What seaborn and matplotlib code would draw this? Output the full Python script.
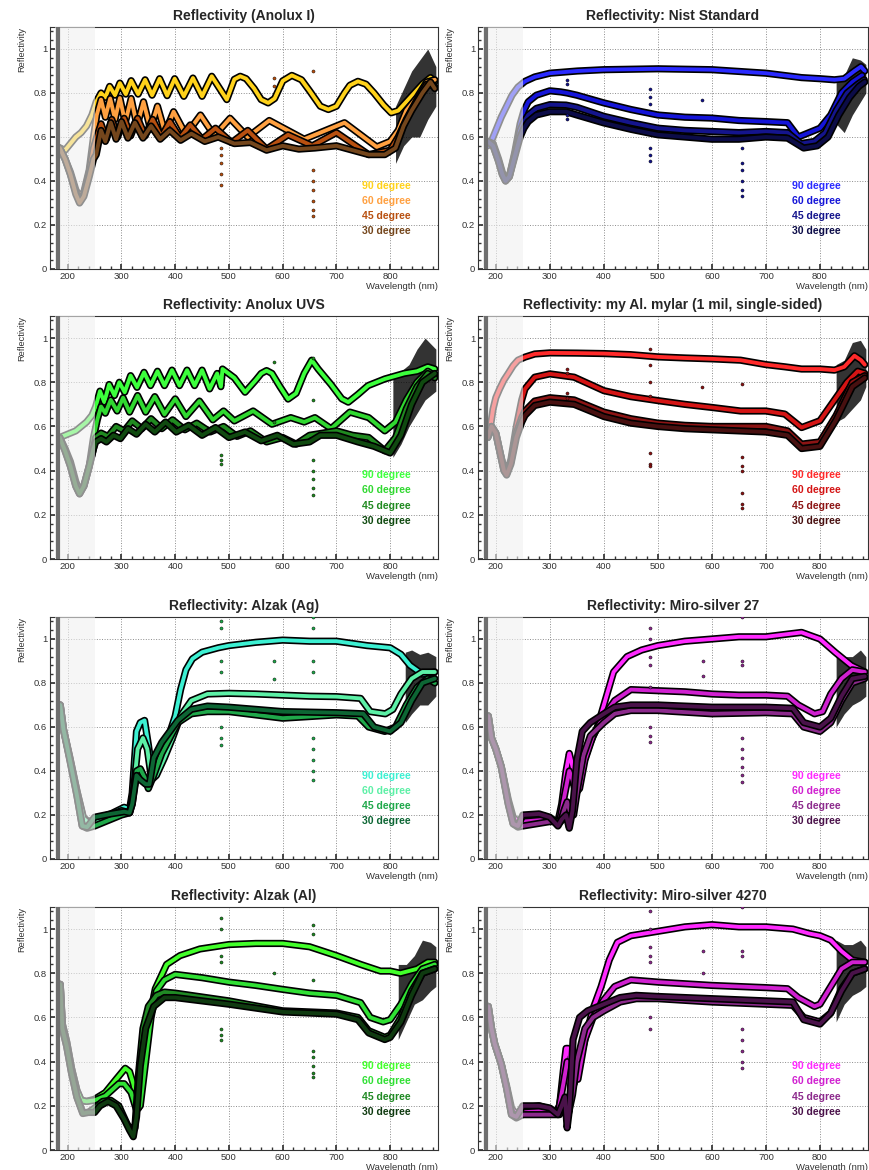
import matplotlib
matplotlib.use('Agg')
import matplotlib.pyplot as plt
import seaborn as sns
import pandas as pd
from matplotlib.ticker import MultipleLocator, FuncFormatter

ANGLES = ['90 degree', '60 degree', '45 degree', '30 degree']

# ---------- Anolux I ----------
ANOLUX_I_WL_90 = [185, 195, 205, 215, 225, 235, 245, 253, 262, 270, 278, 288, 297, 308, 318, 331, 344, 357, 371, 385,
                  399, 416, 433, 450, 468, 496, 510, 521, 532, 547, 560, 573, 585, 600, 617, 635, 650, 670, 685, 700,
                  715, 725, 740, 755, 770, 788, 802, 815, 830, 845, 860, 875, 883]
ANOLUX_I_R_90 = [0.55, 0.54, 0.57, 0.60, 0.62, 0.65, 0.70, 0.76, 0.80, 0.78, 0.83, 0.79, 0.845, 0.795, 0.856, 0.795, 0.86, 0.79, 0.865, 0.788,
                 0.865, 0.785, 0.868, 0.785, 0.876, 0.77, 0.862, 0.876, 0.865, 0.82, 0.77, 0.755, 0.775, 0.855, 0.88, 0.86, 0.81, 0.74, 0.725, 0.74,
                 0.80, 0.835, 0.853, 0.84, 0.80, 0.745, 0.71, 0.72, 0.76, 0.80, 0.84, 0.87, 0.85]
ANOLUX_I_WL_60 = [185, 195, 205, 215, 222, 230, 240, 248, 254, 262, 270, 279, 288, 297, 307, 318, 329, 341, 354, 367,
                  381, 397, 420, 447, 473, 502, 535, 575, 640, 715, 775, 800, 815, 830, 850, 868, 883]
ANOLUX_I_R_60 = [0.55, 0.50, 0.44, 0.36, 0.33, 0.35, 0.45, 0.60, 0.70, 0.77, 0.69, 0.775, 0.68, 0.777, 0.665, 0.775, 0.65, 0.76, 0.635, 0.74,
                 0.62, 0.715, 0.61, 0.70, 0.605, 0.685, 0.60, 0.675, 0.59, 0.665, 0.555, 0.58, 0.63, 0.72, 0.78, 0.85, 0.86]
ANOLUX_I_WL_45 = [185, 195, 205, 215, 222, 230, 240, 248, 254, 262, 272, 282, 293, 305, 317, 330, 344, 358, 374, 390,
                  409, 428, 450, 475, 505, 535, 570, 610, 655, 700, 760, 800, 815, 830, 850, 868, 883]
ANOLUX_I_R_45 = [0.55, 0.50, 0.43, 0.35, 0.31, 0.34, 0.44, 0.55, 0.60, 0.66, 0.59, 0.68, 0.60, 0.685, 0.605, 0.685, 0.605, 0.68, 0.60, 0.67,
                 0.595, 0.655, 0.59, 0.64, 0.575, 0.63, 0.545, 0.61, 0.56, 0.62, 0.52, 0.54, 0.60, 0.68, 0.77, 0.84, 0.83]
ANOLUX_I_WL_30 = [185, 195, 205, 215, 222, 230, 240, 248, 253, 262, 270, 280, 290, 300, 312, 325, 340, 355, 372, 390,
                  410, 430, 455, 480, 510, 540, 570, 600, 630, 660, 700, 730, 760, 790, 810, 825, 840, 860, 875, 883]
ANOLUX_I_R_30 = [0.55, 0.50, 0.43, 0.34, 0.30, 0.33, 0.42, 0.50, 0.52, 0.63, 0.58, 0.665, 0.59, 0.67, 0.595, 0.665, 0.595, 0.65, 0.59, 0.63,
                 0.585, 0.615, 0.58, 0.60, 0.57, 0.575, 0.54, 0.56, 0.545, 0.55, 0.56, 0.54, 0.52, 0.52, 0.55, 0.65, 0.72, 0.80, 0.85, 0.82]
ANOLUX_I_SPIKE_WL = [486, 486, 486, 486, 486, 583, 583, 656, 656, 656, 656, 656, 656, 656]
ANOLUX_I_SPIKE_R = [0.55, 0.52, 0.48, 0.43, 0.38, 0.87, 0.83, 0.90, 0.45, 0.40, 0.36, 0.31, 0.27, 0.24]
ANOLUX_I_CLOUD_WL = [810, 825, 840, 855, 870, 885]
ANOLUX_I_CLOUD_LO = [0.48, 0.56, 0.60, 0.60, 0.68, 0.74]
ANOLUX_I_CLOUD_HI = [0.74, 0.82, 0.90, 0.95, 1.00, 0.92]

# ---------- Nist Standard ----------
NIST_WL_90 = [185, 190, 200, 210, 220, 230, 241, 254, 272, 300, 351, 400, 500, 600, 700, 766, 800, 827, 845, 864, 876, 883]
NIST_R_90 = [0.56, 0.57, 0.63, 0.69, 0.74, 0.79, 0.827, 0.853, 0.873, 0.89, 0.90, 0.906, 0.91, 0.906, 0.89, 0.87, 0.865, 0.86, 0.865, 0.90, 0.92, 0.90]
NIST_WL_60 = [185, 195, 205, 212, 218, 225, 235, 245, 252, 260, 275, 300, 320, 332, 350, 400, 450, 500, 550, 600,
              650, 700, 740, 760, 785, 800, 820, 840, 860, 878]
NIST_R_60 = [0.58, 0.57, 0.50, 0.44, 0.405, 0.42, 0.53, 0.66, 0.72, 0.76, 0.79, 0.81, 0.805, 0.80, 0.79, 0.755, 0.725, 0.70, 0.69, 0.686,
             0.675, 0.67, 0.665, 0.60, 0.625, 0.64, 0.70, 0.80, 0.85, 0.88]
NIST_WL_45 = [185, 195, 205, 212, 218, 225, 235, 245, 252, 260, 275, 300, 330, 350, 400, 450, 500, 550, 600, 650,
              700, 740, 765, 790, 810, 830, 850, 870, 882]
NIST_R_45 = [0.58, 0.56, 0.49, 0.43, 0.40, 0.42, 0.52, 0.63, 0.67, 0.70, 0.73, 0.747, 0.745, 0.735, 0.694, 0.665, 0.64, 0.63, 0.625, 0.62,
             0.625, 0.62, 0.57, 0.58, 0.62, 0.72, 0.80, 0.84, 0.86]
NIST_WL_30 = [185, 195, 205, 212, 218, 225, 235, 245, 252, 260, 275, 300, 330, 350, 400, 450, 500, 550, 600, 650,
              700, 740, 770, 795, 815, 835, 855, 872, 883]
NIST_R_30 = [0.58, 0.56, 0.49, 0.43, 0.40, 0.42, 0.51, 0.60, 0.64, 0.67, 0.70, 0.715, 0.715, 0.70, 0.664, 0.635, 0.61, 0.60, 0.59, 0.59,
             0.60, 0.595, 0.55, 0.56, 0.60, 0.70, 0.78, 0.83, 0.85]
NIST_SPIKE_WL = [332, 332, 332, 332, 486, 486, 486, 486, 486, 486, 582, 656, 656, 656, 656, 656, 656]
NIST_SPIKE_R = [0.86, 0.84, 0.70, 0.68, 0.82, 0.78, 0.75, 0.55, 0.52, 0.49, 0.77, 0.55, 0.48, 0.45, 0.40, 0.36, 0.33]
NIST_CLOUD_WL = [830, 845, 860, 875, 885]
NIST_CLOUD_LO = [0.66, 0.62, 0.70, 0.76, 0.80]
NIST_CLOUD_HI = [0.87, 0.88, 0.96, 0.95, 0.93]

# ---------- Anolux UVS ----------
UVS_WL_90 = [185, 195, 205, 215, 225, 235, 245, 252, 260, 268, 277, 287, 296, 306, 317, 329, 342, 354, 367, 380,
             394, 408, 422, 436, 450, 464, 478, 485, 488, 510, 530, 550, 560, 570, 580, 595, 610, 625, 640, 654,
             666, 690, 710, 722, 740, 759, 790, 826, 850, 870, 883]
UVS_R_90 = [0.55, 0.56, 0.57, 0.58, 0.60, 0.62, 0.65, 0.69, 0.76, 0.71, 0.79, 0.74, 0.80, 0.755, 0.83, 0.777, 0.845, 0.785, 0.85, 0.785,
            0.855, 0.785, 0.855, 0.785, 0.855, 0.77, 0.84, 0.78, 0.86, 0.82, 0.755, 0.81, 0.84, 0.853, 0.84, 0.78, 0.724, 0.75, 0.84, 0.90,
            0.86, 0.79, 0.725, 0.71, 0.745, 0.785, 0.815, 0.84, 0.85, 0.87, 0.86]
UVS_WL_60 = [185, 195, 205, 215, 222, 230, 240, 248, 255, 262, 270, 280, 292, 303, 315, 330, 345, 362, 380, 400,
             420, 445, 470, 490, 510, 545, 580, 615, 640, 660, 690, 725, 760, 790, 810, 830, 850, 870, 883]
UVS_R_60 = [0.55, 0.50, 0.44, 0.35, 0.31, 0.33, 0.42, 0.55, 0.63, 0.69, 0.66, 0.72, 0.67, 0.73, 0.665, 0.74, 0.665, 0.735, 0.655, 0.725,
            0.645, 0.715, 0.63, 0.67, 0.625, 0.67, 0.61, 0.64, 0.62, 0.64, 0.59, 0.665, 0.64, 0.58, 0.62, 0.72, 0.80, 0.85, 0.83]
UVS_WL_45 = [185, 195, 205, 215, 222, 230, 240, 248, 252, 262, 275, 290, 305, 320, 338, 355, 375, 395, 418, 440,
             465, 490, 515, 540, 570, 600, 625, 650, 675, 700, 730, 760, 790, 810, 830, 850, 870, 883]
UVS_R_45 = [0.55, 0.49, 0.42, 0.33, 0.295, 0.33, 0.42, 0.50, 0.55, 0.57, 0.555, 0.60, 0.58, 0.625, 0.59, 0.635, 0.59, 0.63, 0.585, 0.615,
            0.575, 0.60, 0.555, 0.58, 0.53, 0.55, 0.52, 0.56, 0.57, 0.58, 0.56, 0.55, 0.49, 0.55, 0.68, 0.78, 0.84, 0.82]
UVS_WL_30 = [185, 195, 205, 215, 222, 230, 240, 248, 252, 262, 272, 285, 298, 312, 328, 345, 362, 382, 402, 425,
             450, 475, 500, 530, 560, 590, 620, 650, 670, 700, 740, 770, 800, 820, 840, 860, 883]
UVS_R_30 = [0.55, 0.49, 0.42, 0.33, 0.295, 0.33, 0.42, 0.50, 0.53, 0.545, 0.53, 0.56, 0.545, 0.59, 0.565, 0.61, 0.575, 0.62, 0.575, 0.605,
            0.56, 0.595, 0.55, 0.575, 0.535, 0.56, 0.52, 0.53, 0.56, 0.56, 0.53, 0.51, 0.48, 0.56, 0.70, 0.80, 0.84]
UVS_SPIKE_WL = [486, 486, 486, 583, 583, 656, 656, 656, 656, 656, 656, 656]
UVS_SPIKE_R = [0.47, 0.45, 0.43, 0.89, 0.62, 0.91, 0.72, 0.45, 0.40, 0.36, 0.32, 0.29]
UVS_CLOUD_WL = [805, 820, 835, 850, 865, 885]
UVS_CLOUD_LO = [0.46, 0.52, 0.60, 0.66, 0.72, 0.76]
UVS_CLOUD_HI = [0.84, 0.85, 0.88, 0.95, 1.00, 0.95]

# ---------- my Al. mylar ----------
MYLAR_WL_90 = [185, 190, 195, 200, 207, 215, 223, 232, 241, 254, 272, 300, 350, 400, 450, 500, 550, 600, 653, 700,
               735, 766, 800, 827, 845, 864, 876, 883]
MYLAR_R_90 = [0.55, 0.60, 0.68, 0.73, 0.77, 0.81, 0.84, 0.875, 0.90, 0.914, 0.928, 0.933, 0.932, 0.93, 0.925, 0.915, 0.91, 0.906, 0.90, 0.88,
              0.87, 0.86, 0.86, 0.855, 0.87, 0.92, 0.90, 0.88]
MYLAR_WL_60 = [185, 192, 200, 208, 215, 220, 228, 238, 248, 254, 272, 300, 345, 400, 450, 500, 550, 600, 653, 700,
               735, 766, 800, 827, 850, 870, 883]
MYLAR_R_60 = [0.55, 0.60, 0.57, 0.48, 0.41, 0.39, 0.45, 0.60, 0.72, 0.77, 0.823, 0.838, 0.823, 0.762, 0.735, 0.717, 0.70, 0.686, 0.67, 0.67,
              0.656, 0.595, 0.626, 0.72, 0.80, 0.85, 0.84]
MYLAR_WL_45 = [185, 192, 200, 208, 215, 220, 228, 238, 248, 254, 272, 300, 345, 400, 450, 500, 550, 600, 653, 700,
               740, 766, 800, 830, 860, 883]
MYLAR_R_45 = [0.55, 0.60, 0.57, 0.48, 0.40, 0.385, 0.44, 0.57, 0.64, 0.67, 0.715, 0.73, 0.72, 0.665, 0.635, 0.615, 0.605, 0.60, 0.60, 0.60,
              0.58, 0.52, 0.53, 0.65, 0.80, 0.83]
MYLAR_WL_30 = [185, 192, 200, 208, 215, 220, 228, 238, 248, 254, 272, 300, 345, 400, 450, 500, 550, 600, 650, 700,
               740, 766, 800, 830, 860, 883]
MYLAR_R_30 = [0.55, 0.60, 0.57, 0.48, 0.40, 0.38, 0.43, 0.55, 0.62, 0.65, 0.695, 0.71, 0.70, 0.645, 0.615, 0.60, 0.59, 0.585, 0.58, 0.575,
              0.56, 0.50, 0.51, 0.63, 0.78, 0.82]
MYLAR_SPIKE_WL = [332, 332, 332, 332, 486, 486, 486, 486, 486, 486, 486, 582, 656, 656, 656, 656, 656, 656, 656]
MYLAR_SPIKE_R = [0.86, 0.84, 0.75, 0.73, 0.95, 0.88, 0.80, 0.74, 0.48, 0.43, 0.42, 0.78, 0.79, 0.46, 0.42, 0.40, 0.30, 0.25, 0.23]
MYLAR_CLOUD_WL = [830, 845, 860, 875, 885]
MYLAR_CLOUD_LO = [0.62, 0.64, 0.68, 0.72, 0.78]
MYLAR_CLOUD_HI = [0.88, 0.90, 0.98, 0.99, 0.95]

# ---------- Alzak (Ag) ----------
AG_WL_90 = [186, 192, 204, 217, 229, 238, 250, 280, 305, 315, 320, 328, 335, 343, 350, 357, 365, 375, 388, 400,
            410, 420, 432, 450, 480, 500, 550, 600, 650, 700, 757, 800, 820, 837, 860, 883]
AG_R_90 = [0.70, 0.59, 0.46, 0.31, 0.19, 0.17, 0.18, 0.205, 0.235, 0.225, 0.30, 0.58, 0.62, 0.63, 0.52, 0.40, 0.40, 0.45, 0.56, 0.65,
           0.77, 0.86, 0.91, 0.94, 0.96, 0.97, 0.985, 0.995, 0.99, 0.99, 0.97, 0.96, 0.93, 0.88, 0.84, 0.85]
AG_WL_60 = [186, 192, 204, 217, 229, 238, 250, 300, 315, 322, 330, 340, 348, 356, 365, 380, 395, 410, 430, 460,
            500, 550, 600, 650, 700, 745, 763, 791, 805, 820, 840, 860, 883]
AG_R_60 = [0.70, 0.59, 0.46, 0.31, 0.185, 0.165, 0.17, 0.22, 0.21, 0.30, 0.50, 0.55, 0.50, 0.36, 0.38, 0.46, 0.55, 0.65, 0.72, 0.75,
           0.753, 0.75, 0.745, 0.74, 0.738, 0.73, 0.67, 0.66, 0.68, 0.75, 0.82, 0.85, 0.85]
AG_WL_45 = [186, 192, 204, 217, 227, 236, 250, 300, 315, 320, 328, 335, 343, 350, 360, 375, 390, 405, 430, 460,
            500, 600, 700, 740, 760, 790, 810, 830, 850, 870, 883]
AG_R_45 = [0.70, 0.59, 0.45, 0.29, 0.15, 0.14, 0.15, 0.20, 0.21, 0.25, 0.40, 0.41, 0.37, 0.32, 0.38, 0.48, 0.55, 0.62, 0.66, 0.67,
           0.67, 0.64, 0.655, 0.65, 0.60, 0.58, 0.60, 0.70, 0.78, 0.82, 0.80]
AG_WL_30 = [186, 192, 204, 217, 227, 236, 250, 280, 305, 315, 320, 328, 335, 345, 352, 360, 375, 390, 405, 430,
            460, 500, 600, 700, 750, 770, 800, 820, 840, 860, 883]
AG_R_30 = [0.70, 0.59, 0.45, 0.29, 0.15, 0.145, 0.19, 0.205, 0.215, 0.21, 0.25, 0.38, 0.36, 0.34, 0.34, 0.46, 0.53, 0.58, 0.63, 0.68,
           0.695, 0.69, 0.67, 0.665, 0.66, 0.60, 0.58, 0.62, 0.72, 0.80, 0.82]
AG_SPIKE_WL = [486, 486, 486, 486, 486, 486, 486, 583, 583, 656, 656, 656, 656, 656, 656, 656, 656, 656]
AG_SPIKE_R = [1.08, 1.05, 0.90, 0.85, 0.60, 0.55, 0.52, 0.90, 0.82, 1.10, 1.05, 0.90, 0.85, 0.55, 0.50, 0.45, 0.40, 0.36]
AG_CLOUD_WL = [828, 840, 855, 870, 885]
AG_CLOUD_LO = [0.62, 0.66, 0.70, 0.70, 0.74]
AG_CLOUD_HI = [0.94, 0.95, 0.93, 0.94, 0.92]

# ---------- Miro-silver 27 ----------
M27_WL_90 = [186, 192, 200, 210, 223, 232, 241, 250, 270, 290, 305, 315, 322, 330, 336, 342, 348, 360, 375, 388,
             400, 418, 443, 470, 500, 550, 600, 650, 700, 766, 800, 828, 858, 883]
M27_R_90 = [0.65, 0.55, 0.50, 0.42, 0.27, 0.19, 0.17, 0.19, 0.20, 0.195, 0.18, 0.17, 0.25, 0.40, 0.48, 0.42, 0.33, 0.42, 0.53, 0.60,
            0.70, 0.85, 0.92, 0.95, 0.97, 0.99, 1.0, 1.01, 1.01, 1.03, 1.0, 0.94, 0.88, 0.85]
M27_WL_60 = [186, 192, 200, 210, 223, 232, 241, 250, 300, 318, 328, 336, 342, 348, 355, 365, 380, 400, 420, 450,
             500, 550, 600, 650, 700, 740, 760, 790, 805, 820, 840, 860, 883]
M27_R_60 = [0.65, 0.55, 0.50, 0.42, 0.26, 0.17, 0.155, 0.17, 0.18, 0.17, 0.30, 0.40, 0.36, 0.30, 0.32, 0.45, 0.56, 0.65, 0.72, 0.77,
            0.765, 0.76, 0.75, 0.745, 0.745, 0.74, 0.70, 0.66, 0.67, 0.75, 0.82, 0.86, 0.85]
M27_WL_45 = [186, 192, 200, 210, 223, 232, 241, 250, 300, 320, 326, 332, 338, 344, 352, 362, 375, 400, 420, 450,
             500, 600, 700, 750, 770, 800, 820, 840, 860, 883]
M27_R_45 = [0.65, 0.55, 0.50, 0.42, 0.25, 0.16, 0.145, 0.15, 0.17, 0.17, 0.22, 0.26, 0.21, 0.20, 0.33, 0.47, 0.56, 0.62, 0.66, 0.675,
            0.675, 0.66, 0.665, 0.66, 0.60, 0.58, 0.62, 0.72, 0.80, 0.82]
M27_WL_30 = [186, 192, 200, 210, 223, 232, 241, 250, 280, 300, 315, 322, 330, 336, 342, 350, 360, 375, 400, 420,
             450, 500, 600, 700, 750, 770, 800, 820, 840, 860, 883]
M27_R_30 = [0.65, 0.55, 0.50, 0.42, 0.25, 0.16, 0.15, 0.20, 0.205, 0.19, 0.15, 0.18, 0.20, 0.14, 0.22, 0.45, 0.58, 0.62, 0.66, 0.69,
            0.70, 0.70, 0.69, 0.69, 0.685, 0.62, 0.60, 0.64, 0.74, 0.82, 0.83]
M27_SPIKE_WL = [486, 486, 486, 486, 486, 486, 486, 486, 583, 583, 656, 656, 656, 656, 656, 656, 656, 656, 656]
M27_SPIKE_R = [1.05, 1.0, 0.92, 0.88, 0.78, 0.60, 0.56, 0.53, 0.90, 0.83, 1.10, 0.90, 0.88, 0.55, 0.50, 0.46, 0.42, 0.38, 0.35]
M27_CLOUD_WL = [830, 845, 860, 875, 885]
M27_CLOUD_LO = [0.60, 0.66, 0.70, 0.72, 0.74]
M27_CLOUD_HI = [0.95, 0.92, 0.92, 0.95, 0.92]

# ---------- Alzak (Al) ----------
AL_WL_90 = [186, 190, 198, 207, 217, 225, 235, 250, 270, 290, 307, 315, 322, 332, 341, 353, 363, 384, 409, 446,
            500, 550, 600, 650, 700, 745, 782, 800, 819, 850, 870, 883]
AL_R_90 = [0.75, 0.57, 0.49, 0.37, 0.27, 0.225, 0.22, 0.23, 0.26, 0.32, 0.37, 0.355, 0.30, 0.19, 0.40, 0.61, 0.73, 0.84, 0.88, 0.91,
           0.93, 0.935, 0.935, 0.92, 0.88, 0.84, 0.81, 0.81, 0.80, 0.82, 0.85, 0.85]
AL_WL_60 = [186, 190, 198, 207, 217, 225, 235, 250, 270, 295, 305, 318, 328, 335, 345, 355, 365, 380, 400, 450,
            500, 550, 600, 650, 700, 745, 763, 787, 800, 820, 840, 860, 883]
AL_R_60 = [0.75, 0.57, 0.49, 0.37, 0.27, 0.225, 0.22, 0.225, 0.245, 0.30, 0.30, 0.26, 0.18, 0.20, 0.40, 0.60, 0.72, 0.77, 0.795, 0.78,
           0.76, 0.745, 0.727, 0.71, 0.70, 0.667, 0.60, 0.58, 0.59, 0.66, 0.75, 0.82, 0.84]
AL_WL_45 = [186, 190, 198, 207, 217, 228, 238, 250, 265, 280, 295, 310, 318, 325, 332, 340, 350, 365, 380, 400,
            500, 600, 700, 740, 760, 790, 800, 820, 840, 860, 883]
AL_R_45 = [0.75, 0.55, 0.47, 0.35, 0.24, 0.17, 0.17, 0.19, 0.22, 0.225, 0.20, 0.12, 0.085, 0.10, 0.35, 0.55, 0.65, 0.70, 0.715, 0.71,
           0.675, 0.63, 0.62, 0.60, 0.54, 0.51, 0.52, 0.60, 0.72, 0.80, 0.82]
AL_WL_30 = [186, 190, 198, 207, 217, 228, 238, 250, 260, 275, 290, 305, 315, 322, 328, 335, 345, 360, 380, 400,
            500, 600, 700, 740, 760, 790, 800, 820, 840, 860, 883]
AL_R_30 = [0.75, 0.55, 0.47, 0.35, 0.24, 0.165, 0.17, 0.17, 0.20, 0.22, 0.20, 0.14, 0.09, 0.06, 0.15, 0.38, 0.55, 0.65, 0.69, 0.69,
           0.66, 0.625, 0.615, 0.59, 0.53, 0.50, 0.51, 0.58, 0.70, 0.80, 0.82]
AL_SPIKE_WL = [486, 486, 486, 486, 486, 486, 486, 583, 656, 656, 656, 656, 656, 656, 656, 656]
AL_SPIKE_R = [1.05, 1.0, 0.88, 0.85, 0.55, 0.52, 0.50, 0.80, 1.02, 0.98, 0.77, 0.45, 0.42, 0.38, 0.35, 0.33]
AL_CLOUD_WL = [815, 830, 845, 860, 875, 885]
AL_CLOUD_LO = [0.50, 0.58, 0.66, 0.68, 0.72, 0.74]
AL_CLOUD_HI = [0.84, 0.84, 0.88, 0.95, 0.94, 0.92]

# ---------- Miro-silver 4270 ----------
M4270_WL_90 = [186, 192, 198, 210, 220, 229, 238, 250, 280, 300, 310, 318, 325, 330, 334, 340, 345, 355, 365, 380,
               395, 410, 425, 450, 500, 550, 600, 650, 700, 750, 780, 800, 820, 840, 860, 883]
M4270_R_90 = [0.65, 0.55, 0.48, 0.39, 0.29, 0.19, 0.16, 0.19, 0.20, 0.185, 0.17, 0.20, 0.36, 0.46, 0.46, 0.35, 0.30, 0.40, 0.50, 0.64,
              0.74, 0.86, 0.94, 0.97, 0.99, 1.01, 1.02, 1.01, 1.01, 1.0, 0.98, 0.97, 0.95, 0.90, 0.86, 0.85]
M4270_WL_60 = [186, 192, 198, 210, 220, 229, 238, 250, 300, 315, 325, 332, 338, 345, 352, 365, 380, 400, 420, 450,
               500, 600, 650, 700, 740, 760, 790, 800, 820, 840, 860, 883]
M4270_R_60 = [0.65, 0.55, 0.48, 0.39, 0.28, 0.17, 0.15, 0.17, 0.18, 0.165, 0.30, 0.40, 0.37, 0.33, 0.32, 0.50, 0.60, 0.68, 0.74, 0.77,
              0.76, 0.745, 0.74, 0.735, 0.73, 0.69, 0.65, 0.66, 0.74, 0.82, 0.85, 0.85]
M4270_WL_45 = [186, 192, 198, 210, 220, 229, 238, 250, 300, 318, 325, 330, 335, 342, 350, 365, 380, 400, 430, 460,
               500, 600, 700, 750, 770, 800, 820, 840, 860, 883]
M4270_R_45 = [0.65, 0.55, 0.48, 0.39, 0.28, 0.16, 0.145, 0.16, 0.16, 0.16, 0.20, 0.23, 0.17, 0.25, 0.40, 0.55, 0.60, 0.63, 0.67, 0.685,
              0.685, 0.67, 0.66, 0.655, 0.60, 0.58, 0.62, 0.73, 0.80, 0.82]
M4270_WL_30 = [186, 192, 198, 210, 220, 229, 238, 250, 280, 300, 315, 322, 328, 332, 336, 343, 355, 370, 400, 430,
               460, 500, 600, 700, 750, 770, 800, 820, 840, 860, 883]
M4270_R_30 = [0.65, 0.55, 0.48, 0.39, 0.28, 0.16, 0.15, 0.20, 0.20, 0.19, 0.16, 0.20, 0.24, 0.10, 0.18, 0.50, 0.60, 0.63, 0.66, 0.69,
              0.70, 0.695, 0.685, 0.675, 0.67, 0.59, 0.57, 0.62, 0.72, 0.80, 0.82]
M4270_SPIKE_WL = [486, 486, 486, 486, 486, 486, 486, 583, 583, 656, 656, 656, 656, 656, 656, 656, 656]
M4270_SPIKE_R = [1.08, 1.0, 0.92, 0.88, 0.85, 0.60, 0.55, 0.90, 0.80, 1.10, 0.90, 0.88, 0.55, 0.50, 0.45, 0.40, 0.37]
M4270_CLOUD_WL = [830, 845, 860, 875, 885]
M4270_CLOUD_LO = [0.58, 0.66, 0.70, 0.72, 0.74]
M4270_CLOUD_HI = [0.95, 0.93, 0.93, 0.95, 0.92]

MAGENTAS = ['#ff2aff', '#d020d0', '#8c2a8c', '#4a124a']

PANELS = [
    ('Reflectivity (Anolux I)',
     [(ANOLUX_I_WL_90, ANOLUX_I_R_90), (ANOLUX_I_WL_60, ANOLUX_I_R_60),
      (ANOLUX_I_WL_45, ANOLUX_I_R_45), (ANOLUX_I_WL_30, ANOLUX_I_R_30)],
     (ANOLUX_I_SPIKE_WL, ANOLUX_I_SPIKE_R), (ANOLUX_I_CLOUD_WL, ANOLUX_I_CLOUD_LO, ANOLUX_I_CLOUD_HI),
     ['#ffd21a', '#ffa040', '#b85010', '#74461c']),
    ('Reflectivity: Nist Standard',
     [(NIST_WL_90, NIST_R_90), (NIST_WL_60, NIST_R_60), (NIST_WL_45, NIST_R_45), (NIST_WL_30, NIST_R_30)],
     (NIST_SPIKE_WL, NIST_SPIKE_R), (NIST_CLOUD_WL, NIST_CLOUD_LO, NIST_CLOUD_HI),
     ['#2a2aff', '#1414d8', '#14148c', '#0c0c48']),
    ('Reflectivity: Anolux UVS',
     [(UVS_WL_90, UVS_R_90), (UVS_WL_60, UVS_R_60), (UVS_WL_45, UVS_R_45), (UVS_WL_30, UVS_R_30)],
     (UVS_SPIKE_WL, UVS_SPIKE_R), (UVS_CLOUD_WL, UVS_CLOUD_LO, UVS_CLOUD_HI),
     ['#3cff3c', '#30d830', '#208a20', '#104a10']),
    ('Reflectivity: my Al. mylar (1 mil, single-sided)',
     [(MYLAR_WL_90, MYLAR_R_90), (MYLAR_WL_60, MYLAR_R_60), (MYLAR_WL_45, MYLAR_R_45), (MYLAR_WL_30, MYLAR_R_30)],
     (MYLAR_SPIKE_WL, MYLAR_SPIKE_R), (MYLAR_CLOUD_WL, MYLAR_CLOUD_LO, MYLAR_CLOUD_HI),
     ['#ff2a2a', '#d41414', '#8c1414', '#481010']),
    ('Reflectivity: Alzak (Ag)',
     [(AG_WL_90, AG_R_90), (AG_WL_60, AG_R_60), (AG_WL_45, AG_R_45), (AG_WL_30, AG_R_30)],
     (AG_SPIKE_WL, AG_SPIKE_R), (AG_CLOUD_WL, AG_CLOUD_LO, AG_CLOUD_HI),
     ['#3cf0d2', '#5cf0a6', '#1fa84a', '#0d6634']),
    ('Reflectivity: Miro-silver 27',
     [(M27_WL_90, M27_R_90), (M27_WL_60, M27_R_60), (M27_WL_45, M27_R_45), (M27_WL_30, M27_R_30)],
     (M27_SPIKE_WL, M27_SPIKE_R), (M27_CLOUD_WL, M27_CLOUD_LO, M27_CLOUD_HI), MAGENTAS),
    ('Reflectivity: Alzak (Al)',
     [(AL_WL_90, AL_R_90), (AL_WL_60, AL_R_60), (AL_WL_45, AL_R_45), (AL_WL_30, AL_R_30)],
     (AL_SPIKE_WL, AL_SPIKE_R), (AL_CLOUD_WL, AL_CLOUD_LO, AL_CLOUD_HI),
     ['#42ff2a', '#30e034', '#208a24', '#0f3a10']),
    ('Reflectivity: Miro-silver 4270',
     [(M4270_WL_90, M4270_R_90), (M4270_WL_60, M4270_R_60), (M4270_WL_45, M4270_R_45), (M4270_WL_30, M4270_R_30)],
     (M4270_SPIKE_WL, M4270_SPIKE_R), (M4270_CLOUD_WL, M4270_CLOUD_LO, M4270_CLOUD_HI), MAGENTAS),
]

sns.set_theme(style="ticks")
plt.rcParams['font.family'] = ['Liberation Sans', 'DejaVu Sans']

W, H = 869, 1170
fig = plt.figure(figsize=(W / 100, H / 100), dpi=100)
fig.patch.set_facecolor('white')

# pixel boxes of the frames
cols = [(50, 438), (478, 868)]
rows = [(27, 269), (316, 559), (617, 859), (907, 1150)]


def draw_panel(ax, title, curves, spikes, cloud, colors):
    # noisy near-IR end: error bars pile up into a dark cloud
    ax.fill_between(cloud[0], cloud[1], cloud[2], color='black', alpha=0.8, lw=0, zorder=2)
    for (wl, r), c in zip(curves, colors):
        df = pd.DataFrame({'wl': wl, 'r': r})
        sns.lineplot(data=df, x='wl', y='r', ax=ax, color='black', lw=5.2, sort=False,
                     estimator=None, zorder=3, solid_joinstyle='round', solid_capstyle='round')
        sns.lineplot(data=df, x='wl', y='r', ax=ax, color=c, lw=2.8, sort=False,
                     estimator=None, zorder=3, solid_joinstyle='round', solid_capstyle='round')
    sp = pd.DataFrame({'wl': spikes[0], 'r': spikes[1]})
    sns.scatterplot(data=sp, x='wl', y='r', ax=ax, color=colors[2], s=5, edgecolor='black',
                    linewidth=0.3, zorder=4)

    # greyed-out UV region and the lamp line
    ax.axvspan(176, 250, color='#f0f0f0', alpha=0.6, lw=0, zorder=5)
    ax.axvline(181, color='#6e6e6e', lw=3, zorder=6)

    ax.set_xlim(167, 889)
    ax.set_ylim(0, 1.1)
    ax.xaxis.set_major_locator(MultipleLocator(100))
    ax.xaxis.set_minor_locator(MultipleLocator(20))
    ax.yaxis.set_major_locator(MultipleLocator(0.2))
    ax.yaxis.set_minor_locator(MultipleLocator(0.04))
    ax.yaxis.set_major_formatter(FuncFormatter(lambda v, p: f'{v:g}'))
    ax.tick_params(which='both', direction='in', labelsize=6.8, colors='#333333', pad=2)
    ax.tick_params(which='major', length=3.5)
    ax.tick_params(which='minor', length=2)
    ax.set_axisbelow(True)
    ax.grid(which='major', ls=':', color='#8c8c8c', lw=0.7)
    for s in ax.spines.values():
        s.set_linewidth(0.8)
        s.set_color('#333333')
    ax.set_xlabel('')
    ax.set_ylabel('')
    ax.set_title(title, fontsize=10, fontweight='bold', pad=5)
    ax.text(-0.072, 1.0, 'Reflectivity', rotation=90, ha='center', va='top',
            fontsize=6.7, color='#333333', transform=ax.transAxes)
    ax.text(1.0, -0.072, 'Wavelength (nm)', ha='right', va='center',
            fontsize=6.8, color='#333333', transform=ax.transAxes)
    for i, (lab, c) in enumerate(zip(ANGLES, colors)):
        ax.text(0.805, 0.345 - 0.063 * i, lab, color=c, fontsize=7.6, fontweight='bold',
                va='center', ha='left', transform=ax.transAxes, zorder=7)


for k, (title, curves, spikes, cloud, colors) in enumerate(PANELS):
    x0, x1 = cols[k % 2]
    y0, y1 = rows[k // 2]
    ax = fig.add_axes([x0 / W, 1 - y1 / H, (x1 - x0) / W, (y1 - y0) / H])
    draw_panel(ax, title, curves, spikes, cloud, colors)

fig.savefig('out.png', dpi=100, facecolor='white')
